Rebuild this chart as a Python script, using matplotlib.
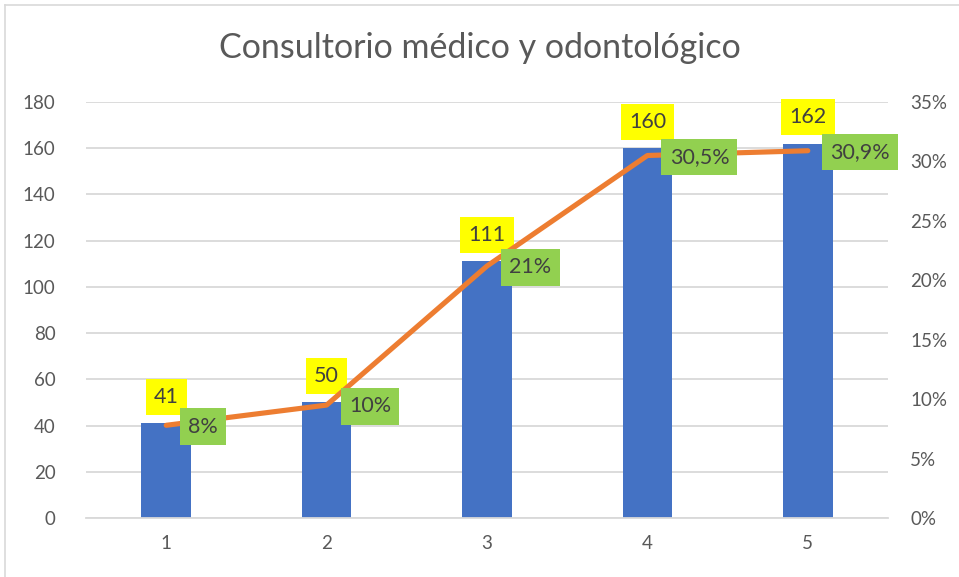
import matplotlib
matplotlib.use("Agg")
import matplotlib.pyplot as plt
from matplotlib.lines import Line2D

plt.rcParams['font.family'] = ['Lato', 'DejaVu Sans']

categories = ["1", "2", "3", "4", "5"]
counts = [41, 50, 111, 160, 162]
percents = [0.078, 0.095, 0.212, 0.305, 0.309]
percent_labels = ["8%", "10%", "21%", "30,5%", "30,9%"]
left_ticks = [0, 20, 40, 60, 80, 100, 120, 140, 160, 180]
right_ticks = [0, 0.05, 0.10, 0.15, 0.20, 0.25, 0.30, 0.35]
right_tick_labels = ["0%", "5%", "10%", "15%", "20%", "25%", "30%", "35%"]

W, H = 959, 577
fig = plt.figure(figsize=(W / 100, H / 100), dpi=100)
ax = fig.add_axes([86 / W, 1 - 518 / H, (888 - 86) / W, (518 - 102) / H])

x = list(range(1, len(categories) + 1))
ax.bar(x, counts, width=0.31, color="#4472C4", zorder=2)
ax.set_xlim(0.5, 5.5)
ax.set_ylim(0, 180)
ax.set_yticks(left_ticks)
ax.set_xticks(x)
ax.set_xticklabels(categories)
ax.grid(axis="y", color="#D9D9D9", linewidth=1.3, zorder=0)
for s in ["top", "right", "left"]:
    ax.spines[s].set_visible(False)
ax.spines["bottom"].set_color("#D9D9D9")
ax.spines["bottom"].set_linewidth(1.3)
ax.tick_params(axis="both", length=0, labelsize=13.5, colors="#595959")
ax.tick_params(axis="y", pad=22)
ax.tick_params(axis="x", pad=12)

ax2 = ax.twinx()
ax2.set_ylim(0, 0.35)
ax2.set_yticks(right_ticks)
ax2.set_yticklabels(right_tick_labels)
for s in ["top", "right", "left", "bottom"]:
    ax2.spines[s].set_visible(False)
ax2.tick_params(axis="y", length=0, labelsize=13.5, colors="#595959", pad=16)
ax2.plot(x, percents, color="#ED7D31", linewidth=3.7, solid_capstyle="round", zorder=3)

for xi, c in zip(x, counts):
    ax.annotate(str(c), (xi, c), xytext=(0, 19), textcoords="offset points",
                ha="center", va="center", fontsize=15.5, color="#404040",
                bbox=dict(boxstyle="square,pad=0.38", fc="#FFFF00", ec="none"), zorder=5)

for xi, p, lab in zip(x, percents, percent_labels):
    ax2.annotate(lab, (xi, p), xytext=(16, -1), textcoords="offset points",
                 ha="left", va="center", fontsize=15.5, color="#404040",
                 bbox=dict(boxstyle="square,pad=0.38", fc="#92D050", ec="none"), zorder=6)

fig.text(0.5, 1 - 48 / H, "Consultorio médico y odontológico", ha="center", va="center",
         fontsize=24.5, color="#595959")

fig.add_artist(Line2D([5 / W, 5 / W], [0, 1 - 5 / H], transform=fig.transFigure,
                      color="#D9D9D9", linewidth=1.2))
fig.add_artist(Line2D([5 / W, 1], [1 - 5 / H, 1 - 5 / H], transform=fig.transFigure,
                      color="#D9D9D9", linewidth=1.2))

fig.savefig("out.png", dpi=100)
